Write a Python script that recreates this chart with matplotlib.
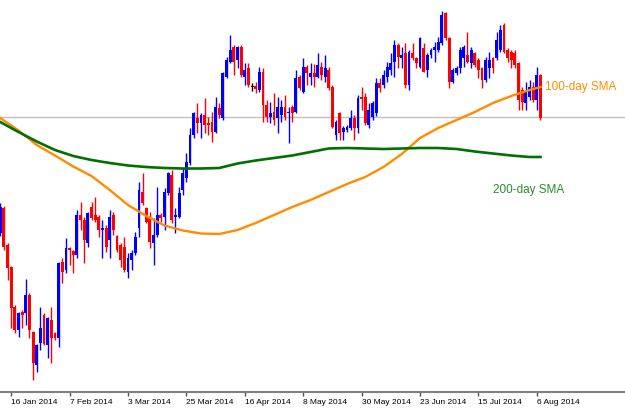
import matplotlib
matplotlib.use("Agg")
import matplotlib.pyplot as plt
import numpy as np

# Daily candles, 13 Jan 2014 .. 7 Aug 2014 (one value per trading day).
# Price levels in chart rows (0 = top, 392 = axis).
opens = [233, 208, 245, 267, 307, 330, 312, 313, 295, 332,
         365, 343, 315, 345, 320, 333, 338, 262, 270, 248,
         251, 255, 215, 220, 243, 207, 215, 217, 230, 228,
         240, 215, 236, 245, 247, 272, 260, 253, 228, 192,
         208, 217, 243, 235, 215, 217, 193, 175, 217, 217,
         190, 178, 163, 135, 118, 123, 115, 123, 122, 132,
         108, 118, 77, 62, 47, 60, 47, 77, 68, 86,
         86, 90, 72, 105, 117, 112, 118, 115, 107, 113,
         107, 112, 77, 92, 67, 77, 73, 77, 67, 77,
         70, 87, 135, 113, 132, 130, 128, 118, 128, 97,
         97, 125, 117, 113, 83, 85, 77, 70, 62, 45,
         58, 53, 85, 53, 58, 67, 48, 70, 55, 50,
         50, 43, 13, 38, 82, 73, 68, 58, 55, 63,
         53, 60, 68, 80, 68, 58, 58, 50, 25, 50,
         52, 53, 63, 90, 103, 97, 87, 100, 75]
highs = [203, 206, 243, 266, 305, 312, 310, 279, 293, 331,
         344, 307, 313, 317, 307, 332, 262, 258, 238, 247,
         250, 210, 202, 217, 212, 202, 197, 215, 220, 225,
         210, 212, 235, 243, 237, 253, 250, 232, 182, 173,
         207, 212, 218, 187, 213, 188, 172, 170, 208, 187,
         168, 153, 128, 112, 103, 113, 98, 117, 112, 97,
         103, 72, 57, 35, 45, 46, 45, 63, 63, 83,
         82, 67, 68, 100, 102, 93, 97, 100, 95, 107,
         105, 70, 75, 58, 65, 63, 64, 53, 62, 55,
         67, 85, 120, 112, 126, 125, 110, 115, 95, 87,
         93, 103, 101, 78, 78, 70, 62, 53, 40, 43,
         47, 43, 50, 43, 57, 37, 43, 53, 48, 42,
         37, 11, 12, 37, 68, 66, 47, 45, 32, 47,
         52, 58, 67, 57, 52, 57, 32, 25, 23, 48,
         50, 50, 62, 87, 82, 80, 82, 67, 74]
lows = [236, 250, 280, 328, 333, 337, 328, 325, 338, 380,
        372, 350, 345, 358, 363, 340, 347, 283, 273, 265,
        273, 258, 230, 263, 247, 220, 222, 237, 258, 252,
        258, 235, 252, 267, 272, 278, 270, 255, 237, 205,
        223, 248, 265, 237, 222, 230, 195, 223, 233, 218,
        195, 182, 165, 138, 133, 138, 133, 135, 142, 133,
        118, 120, 78, 63, 75, 68, 77, 85, 87, 91,
        93, 92, 122, 122, 123, 125, 133, 122, 120, 143,
        122, 113, 90, 93, 85, 85, 87, 78, 80, 82,
        90, 128, 140, 140, 140, 132, 130, 140, 133, 110,
        125, 128, 120, 116, 92, 88, 82, 75, 77, 68,
        68, 88, 90, 60, 68, 68, 72, 77, 58, 62,
        52, 45, 40, 88, 83, 75, 73, 67, 63, 68,
        67, 78, 88, 82, 78, 73, 60, 52, 53, 62,
        68, 68, 110, 110, 110, 100, 102, 110, 120]
closes = [207, 247, 268, 308, 330, 313, 315, 295, 330, 363,
          345, 328, 344, 318, 338, 338, 263, 272, 248, 250,
          255, 215, 220, 240, 213, 218, 220, 230, 228, 247,
          217, 230, 250, 260, 270, 258, 253, 237, 190, 203,
          222, 242, 235, 215, 218, 192, 173, 220, 215, 193,
          173, 162, 135, 113, 123, 115, 125, 125, 132, 107,
          115, 73, 60, 50, 62, 47, 75, 70, 85, 86,
          89, 72, 105, 117, 113, 120, 107, 107, 117, 112,
          113, 78, 88, 67, 73, 73, 77, 65, 75, 68,
          88, 127, 122, 133, 128, 127, 118, 128, 98, 99,
          123, 110, 103, 83, 88, 75, 67, 63, 45, 57,
          55, 85, 52, 58, 63, 38, 72, 55, 50, 47,
          42, 15, 38, 82, 70, 68, 50, 47, 62, 50,
          65, 70, 80, 60, 60, 68, 40, 30, 52, 58,
          60, 65, 100, 102, 92, 87, 100, 75, 118]

# Moving averages sampled every 5 bars (last sample on the final bar)
sma_bars = [0, 5, 10, 15, 20, 25, 30, 35, 40, 45, 50, 55, 60, 65, 70,
            75, 80, 85, 90, 95, 100, 105, 110, 115, 120, 125, 130, 135,
            140, 145, 148]
sma100 = [118, 130.5, 145, 155.5, 166.5, 176, 190, 205, 216, 225.5,
          230.5, 233.5, 234, 230, 223, 215, 207, 200, 192, 184,
          177, 167, 154, 138, 128, 120, 112, 103, 96, 90, 87]
sma200 = [122, 132, 141.5, 150, 156, 160, 163, 165.5, 167, 168,
          168.5, 168.5, 168, 163.5, 160.5, 158, 155.5, 152, 148.5, 148,
          148.5, 149, 148.5, 148, 148, 149, 151.5, 153.5, 155.5, 157, 157]

tick_bars = [3, 19, 35, 51, 67, 83, 99, 115, 131, 147]
tick_labels = ['16 Jan 2014', '7 Feb 2014', '3 Mar 2014', '25 Mar 2014',
               '16 Apr 2014', '8 May 2014', '30 May 2014', '23 Jun 2014',
               '15 Jul 2014', '6 Aug 2014']
bid_level = 117

fig = plt.figure(figsize=(6.25, 4.08), dpi=100)
ax = fig.add_axes([0, 16 / 408, 1, 392 / 408])

x = np.arange(len(opens))
o = np.array(opens, dtype=float)
c = np.array(closes, dtype=float)
colors = np.where(c < o, '#0000ff', np.where(c > o, '#ff0000', '#000000'))

# bid line
ax.axhline(bid_level, color='#c0c0c0', lw=1, zorder=1)

# candles
ax.vlines(x, highs, lows, colors=colors, lw=1.0, zorder=2)
body_h = np.maximum(np.abs(c - o), 0.8)
ax.bar(x, body_h, bottom=np.minimum(o, c), width=0.78, color=colors,
       linewidth=0, zorder=3)

# moving averages
ax.plot(sma_bars, sma100, color='#ff8c00', lw=1.7, zorder=4)
ax.plot(sma_bars, sma200, color='#007000', lw=1.9, zorder=4)
ax.text(149.2, sma100[-1], '100-day SMA', color='#ff8c00', fontsize=8.5,
        family='Liberation Sans', va='center', ha='left')
ax.text(135, 190, '200-day SMA', color='#2e8b2e', fontsize=8.5,
        family='Liberation Sans', va='center', ha='left')

ax.set_xlim(-0.07, 171.16)
ax.set_ylim(392, 0)
ax.set_yticks([])
ax.set_xticks(tick_bars)
ax.set_xticklabels(tick_labels, ha='left', fontsize=6,
                   family='Liberation Sans')
ax.tick_params(axis='x', direction='out', length=3, width=1,
               color='#505050', pad=2)
for side in ['top', 'left', 'right']:
    ax.spines[side].set_visible(False)
ax.spines['bottom'].set_color('#808080')
ax.spines['bottom'].set_linewidth(1.5)

fig.savefig('out.png', dpi=100)
